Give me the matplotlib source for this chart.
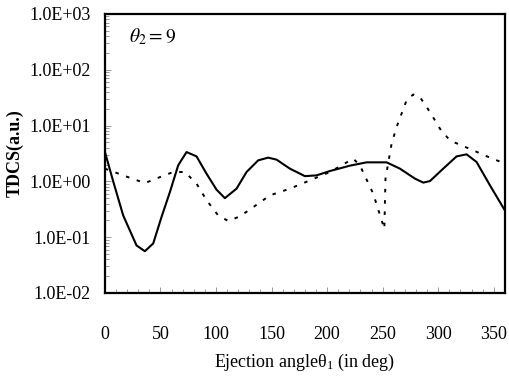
import matplotlib
matplotlib.use('Agg')
import matplotlib.pyplot as plt
from matplotlib.ticker import LogLocator, MultipleLocator, FuncFormatter

plt.rcParams['font.family'] = ['Liberation Serif', 'DejaVu Serif']
plt.rcParams['mathtext.fontset'] = 'stix'

# solid curve
solid_x = [0, 7.5, 16.5, 28.5, 36, 43.5, 51, 58.5, 66, 73.5, 82.5, 91.5, 100.5, 108,
           118.5, 127.5, 138, 147, 154.5, 166.5, 180, 190.5, 202.5, 220.5, 235.5, 253.5,
           265.5, 279, 286.5, 292.5, 304.5, 316.5, 325.5, 334.5, 346.5, 360]
solid_y = [3.4, 1.0, 0.245, 0.071, 0.056, 0.077, 0.23, 0.64, 1.94, 3.35, 2.8, 1.37, 0.71, 0.5,
           0.74, 1.47, 2.38, 2.66, 2.45, 1.69, 1.24, 1.28, 1.53, 1.91, 2.19, 2.19,
           1.69, 1.12, 0.95, 1.01, 1.69, 2.8, 3.05, 2.22, 0.85, 0.30]

# dashed curve
dash_x = [0, 16.5, 36, 49.5, 61.5, 72, 82.5, 91.5, 102, 111, 121.5, 133.5, 148.5, 166.5,
          184.5, 202.5, 223.5, 229.5, 241.5, 251.5, 252.5, 258, 262.5, 267, 271.5, 277.5,
          283.5, 292.5, 301.5, 310.5, 321, 331.5, 342, 360]
dash_y = [1.69, 1.28, 0.93, 1.19, 1.47, 1.47, 0.91, 0.46, 0.245, 0.195, 0.236, 0.345, 0.56, 0.74,
          1.04, 1.47, 2.55, 1.94, 0.6, 0.14, 1.1, 4.7, 9.4, 16.3, 28.3, 36,
          32.4, 17.5, 8.8, 5.4, 4.4, 3.6, 2.9, 2.08]

fig = plt.figure(figsize=(5.09, 3.87), dpi=100)
ax = fig.add_axes([0.206, 0.243, 0.786, 0.721])

ax.plot(solid_x, solid_y, color='black', lw=1.5)
ax.plot(dash_x, dash_y, color='black', lw=1.4, linestyle=(0, (1.8, 4)))

ax.set_yscale('log')
ax.set_ylim(1e-2, 1e3)
ax.set_xlim(0, 360)
ax.xaxis.set_major_locator(MultipleLocator(50))
ax.xaxis.set_minor_locator(MultipleLocator(10))
ax.yaxis.set_major_locator(LogLocator(base=10, numticks=10))
ax.yaxis.set_minor_locator(LogLocator(base=10, subs=range(2, 10), numticks=20))
ax.yaxis.set_major_formatter(FuncFormatter(lambda v, p: '%.1E' % v))

ax.tick_params(which='both', direction='in', color='#888888', width=0.6)
ax.tick_params(which='major', length=4, labelsize=13)
ax.tick_params(which='minor', length=3)
ax.tick_params(axis='x', which='both', pad=24)
ax.tick_params(axis='y', which='both', pad=10)
for s in ax.spines.values():
    s.set_linewidth(1.6)

ax.text(0.06, 0.9, r'$\theta_2 = 9$', transform=ax.transAxes, fontsize=14)

ax.set_ylabel('TDCS(a.u.)', fontsize=13, fontweight='bold', labelpad=4)
ax.set_xlabel(r'Ejection angle$\mathregular{\theta_{1}}$ (in deg)', fontsize=13, labelpad=6)

fig.savefig('out.png', dpi=100)
